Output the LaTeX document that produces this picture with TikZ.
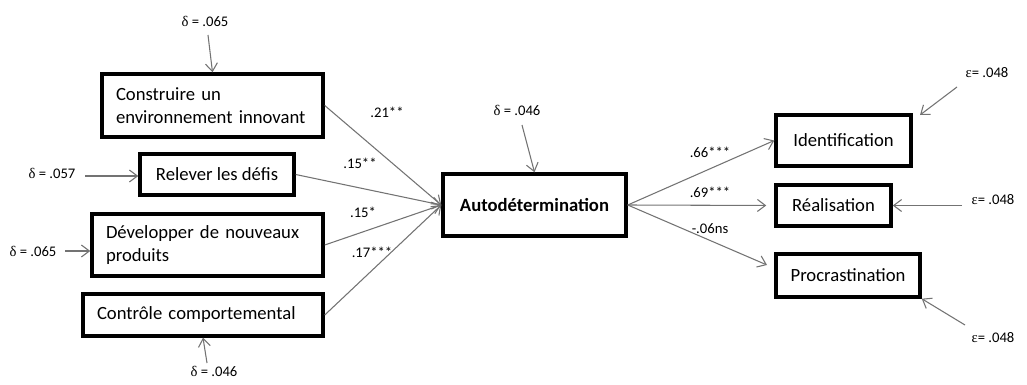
\documentclass[tikz,border=0pt]{standalone}
\usepackage{fontspec}
\setmainfont{Carlito}
\newfontfamily\grk{Liberation Serif}
\usetikzlibrary{arrows.meta}
\definecolor{arrgray}{RGB}{115,115,115}
\newcommand{\dlt}{{\grk δ}}
\newcommand{\eps}{{\grk ε}}
\begin{document}
\begin{tikzpicture}[x=0.75pt,y=-0.75pt,
  box/.style={draw, line width=2.6pt, inner sep=0pt, font=\fontsize{14}{17}\selectfont},
  lbox/.style={box, align=left, inner xsep=10.5pt},
  cbox/.style={box, align=center},
  arr/.style={draw=arrgray, line width=0.8pt, -{Straight Barb[length=6pt,width=9pt]}},
  lab/.style={font=\fontsize{11}{13}\selectfont, inner sep=1pt}]
\useasboundingbox (0,0) rectangle (1027,385);
% boxes
\node[lbox, minimum width=165.75pt, minimum height=47.25pt, text width=144.75pt] (b1) at (212.5,105.5) {Construire un\\environnement innovant};
\node[cbox, minimum width=115.5pt, minimum height=30.75pt] (b2) at (217,174.5) {Relever les défis};
\node[lbox, minimum width=173.25pt, minimum height=46.5pt, text width=152.25pt] (b3) at (207.5,245) {Développer de nouveaux\\produits};
\node[lbox, minimum width=180pt, minimum height=31.5pt, text width=159pt] (b4) at (203,315) {Contrôle comportemental};
\node[cbox, minimum width=137.25pt, minimum height=46.5pt, font=\fontsize{14}{17}\selectfont\bfseries] (auto) at (534.5,205) {Autodétermination};
\node[cbox, minimum width=101.25pt, minimum height=38.25pt] (id) at (843.5,140.5) {Identification};
\node[cbox, minimum width=86.25pt, minimum height=30.75pt] (re) at (833.5,205.5) {Réalisation};
\node[cbox, minimum width=108pt, minimum height=32.25pt] (pr) at (848,275.5) {Procrastination};
% error labels
\node[lab] (d1) at (205,21) {\dlt{} = .065};
\node[lab] (d2) at (52,173) {\dlt{} = .057};
\node[lab] (d3) at (33,251) {\dlt{} = .065};
\node[lab] (d4) at (214,371) {\dlt{} = .046};
\node[lab] (d5) at (517,110) {\dlt{} = .046};
\node[lab] (e1) at (987,73) {\eps= .048};
\node[lab] (e2) at (993,200) {\eps= .048};
\node[lab] (e3) at (993,338) {\eps= .048};
% coefficient labels
\node[lab] (c1) at (387,112) {.21**};
\node[lab] (c2) at (360,163) {.15**};
\node[lab] (c3) at (363,212) {.15*};
\node[lab] (c4) at (372,252) {.17***};
\node[lab] (c5) at (710,152) {.66***};
\node[lab] (c6) at (710,192) {.69***};
\node[lab] (c7) at (710,229) {-.06ns};
% free ends
\coordinate (s1) at (208,35);
\coordinate (s2) at (85,176);
\coordinate (s3) at (65,251);
\coordinate (s4) at (207,363);
\coordinate (s5) at (522,125);
\coordinate (t1) at (957,87);
\coordinate (ti1) at (920,115);
\coordinate (t2) at (962,205.5);
\coordinate (t3) at (965,325);
\coordinate (pe) at (767,265);
% paths
\draw[arr] (b1.east) -- (auto.west);
\draw[arr] (b2.east) -- (auto.west);
\draw[arr] (b3.east) -- (auto.west);
\draw[arr] (b4.east) -- (auto.west);
\draw[arr] (auto.east) -- (id.west);
\draw[arr, shorten >=6pt] (auto.east) -- (re.west);
\draw[arr] (auto.east) -- (pe);
% error arrows
\draw[arr] (s1) -- (b1.north);
\draw[arr] (s2) -- (s2 -| b2.west);
\draw[arr] (s3) -- (s3 -| b3.west);
\draw[arr] (s4) -- (b4.south);
\draw[arr] (s5) -- (auto.north);
\draw[arr] (t1) -- (ti1);
\draw[arr] (t2) -- (re.east);
\draw[arr] (t3) -- (pr.south east);
\end{tikzpicture}
\end{document}
